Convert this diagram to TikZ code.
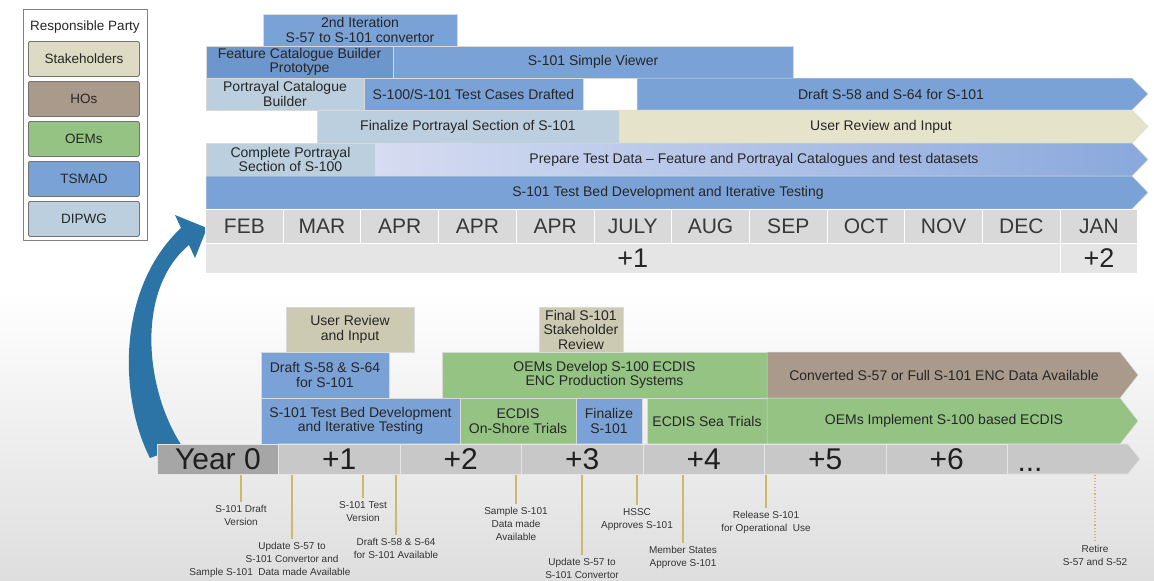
\documentclass[tikz,border=0pt]{standalone}
\usepackage{fontspec}
\setmainfont{Liberation Sans}
\usetikzlibrary{positioning}
\definecolor{tsmad}{RGB}{122,162,214}
\definecolor{tsmaddark}{RGB}{108,150,204}
\definecolor{dipwg}{RGB}{188,207,222}
\definecolor{stake}{RGB}{221,219,196}
\definecolor{stakelight}{RGB}{229,228,203}
\definecolor{stakedark}{RGB}{204,202,178}
\definecolor{hos}{RGB}{169,154,140}
\definecolor{oems}{RGB}{148,195,131}
\definecolor{prepleft}{RGB}{214,220,241}
\definecolor{prepright}{RGB}{138,168,220}
\definecolor{monthgray}{RGB}{217,217,217}
\definecolor{yeargray}{RGB}{229,229,229}
\definecolor{bargray}{RGB}{200,200,200}
\definecolor{yearzero}{RGB}{166,166,166}
\definecolor{milestone}{RGB}{204,186,104}
\definecolor{swoosh}{RGB}{44,115,166}
\begin{document}
\begin{tikzpicture}[x=1pt,y=-1pt,line join=round,
	bar/.style={draw=white!70!gray,line width=0.5pt,inner sep=0pt,outer sep=0pt,anchor=north west,align=center,text=black!85,font=\fontsize{14}{14.5}\selectfont},
	bartext/.style={inner sep=0pt,align=center,text=black!85,font=\fontsize{14}{14.5}\selectfont},
	arrowbar/.style={draw=white!70!gray,line width=0.5pt},
	legendbox/.style={draw=black!55,line width=0.8pt,rounded corners=1.5pt,minimum width=111pt,minimum height=35pt,inner sep=0pt,anchor=north west,text=black!85,font=\fontsize{13.5}{15}\selectfont},
	monthcell/.style={draw=white,line width=1pt,fill=monthgray,minimum width=77.7pt,minimum height=34pt,inner sep=0pt,anchor=north west,text=black!78,font=\fontsize{21}{21}\selectfont},
	yearcell/.style={draw=white,line width=1pt,fill=yeargray,minimum height=30pt,inner sep=0pt,anchor=north west,text=black!85,font=\fontsize{27}{27}\selectfont},
	yearbox/.style={draw=white!80!gray,line width=0.8pt,fill=bargray,minimum height=30pt,inner sep=0pt,anchor=north west,text=black!88,font=\fontsize{30}{30}\selectfont},
	tick/.style={draw=milestone,line width=1.1pt,shorten >=3pt},
	note/.style={inner sep=0pt,align=center,anchor=north,text=black!80,font=\fontsize{10}{13}\selectfont}]
	\useasboundingbox (0,0) rectangle (1154,581);
	\shade[top color=white,bottom color=black!13] (0,290) rectangle (1154,581);
	%%%%Legend
	\draw[black!50,line width=0.8pt,fill=white] (23,9) rectangle (147,240);
	\node[inner sep=0pt,text=black!85,font=\fontsize{13.5}{14}\selectfont] (legtitle) at (85,27) {Responsible Party};
	\foreach \ten/\mau [count=\i] in {Stakeholders/stake,HOs/hos,OEMs/oems,TSMAD/tsmad,DIPWG/dipwg}
		\node[legendbox,fill=\mau] (leg\i) at (28,{1+40*\i}) {\ten};
	%%%%Swoosh arrow
	\fill[swoosh] (150,458) .. controls (120,400) and (115,290) .. (181,228) -- (175,215) -- (207,228) -- (195,258) -- (189,245) .. controls (135,290) and (145,390) .. (182,446) -- cycle;
	%%%%Top bars
	\node[bar,fill=tsmad,minimum width=194pt,minimum height=32pt] (iteration) at (263,14) {2nd Iteration\\S-57 to S-101 convertor};
	\node[bar,fill=tsmaddark,minimum width=187pt,minimum height=32pt] (fcbuilder) at (206,46) {Feature Catalogue Builder\\Prototype};
	\node[bar,fill=tsmad,minimum width=400pt,minimum height=32pt] (viewer) at (393,46) {S-101 Simple Viewer};
	\node[bar,fill=dipwg,minimum width=158pt,minimum height=32pt] (pcbuilder) at (206,78) {Portrayal Catalogue\\Builder};
	\node[bar,fill=tsmad,minimum width=219pt,minimum height=32pt] (testcases) at (364,78) {S-100/S-101 Test Cases Drafted};
	\draw[arrowbar,fill=tsmad] (637,78) -- (1132,78) -- (1148,94) -- (1132,110) -- (637,110) -- cycle;
	\node[bartext] (draftup) at (891,94) {Draft S-58 and S-64 for S-101};
	\node[bar,fill=dipwg,minimum width=302pt,minimum height=33pt] (finportrayal) at (317,110) {Finalize Portrayal Section of S-101};
	\draw[arrowbar,fill=stakelight] (619,110) -- (1132,110) -- (1148,126.5) -- (1132,143) -- (619,143) -- cycle;
	\node[bartext] (reviewup) at (881,126.5) {User Review and Input};
	\node[bar,fill=dipwg,minimum width=169pt,minimum height=33pt] (compportrayal) at (206,143) {Complete Portrayal\\Section of S-100};
	\draw[arrowbar,left color=prepleft,right color=prepright] (375,143) -- (1132,143) -- (1148,159.5) -- (1132,176) -- (375,176) -- cycle;
	\node[bartext] (prepare) at (754,159.5) {Prepare Test Data -- Feature and Portrayal Catalogues and test datasets};
	\draw[arrowbar,fill=tsmad] (206,176) -- (1132,176) -- (1148,192.5) -- (1132,209) -- (206,209) -- cycle;
	\node[bartext] (testbedup) at (668,192.5) {S-101 Test Bed Development and Iterative Testing};
	%%%%Months
	\foreach \thang [count=\i from 0] in {FEB,MAR,APR,APR,APR,JULY,AUG,SEP,OCT,NOV,DEC,JAN}
		\node[monthcell] (m\i) at ({205+77.7*\i},209) {\thang};
	\node[yearcell,minimum width=854.7pt] (yr1) at (205,243) {+1};
	\node[yearcell,minimum width=77.7pt] (yr2) at (1059.7,243) {+2};
	%%%%Bottom bars
	\node[bar,fill=stakedark,minimum width=128pt,minimum height=45pt] (reviewlow) at (286,307) {User Review\\and Input};
	\node[bar,fill=stakedark,minimum width=84pt,minimum height=45pt] (finalreview) at (539,307) {Final S-101\\Stakeholder\\Review};
	\node[bar,fill=tsmad,minimum width=128pt,minimum height=46pt] (draftlow) at (261,352) {Draft S-58 \& S-64\\for S-101};
	\node[bar,fill=oems,minimum width=325pt,minimum height=46pt] (oemdev) at (442,352) {OEMs Develop S-100 ECDIS\\ENC Production Systems};
	\draw[arrowbar,fill=hos] (767,352) -- (1120,352) -- (1138,375) -- (1120,398) -- (767,398) -- cycle;
	\node[bartext] (converted) at (944,375) {Converted S-57 or Full S-101 ENC Data Available};
	\node[bar,fill=tsmad,minimum width=199pt,minimum height=46pt] (testbedlow) at (261,398) {S-101 Test Bed Development\\and Iterative Testing};
	\node[bar,fill=oems,minimum width=116pt,minimum height=46pt] (onshore) at (460,398) {ECDIS\\On-Shore Trials};
	\node[bar,fill=tsmad,minimum width=66pt,minimum height=46pt] (finalize) at (576,398) {Finalize\\S-101};
	\node[bar,fill=oems,minimum width=120pt,minimum height=46pt] (seatrials) at (647,398) {ECDIS Sea Trials};
	\draw[arrowbar,fill=oems] (767,398) -- (1120,398) -- (1138,421) -- (1120,444) -- (767,444) -- cycle;
	\node[bartext] (implement) at (944,421) {OEMs Implement S-100 based ECDIS};
	%%%%Years
	\draw[draw=white!80!gray,line width=0.8pt,fill=bargray] (278,444) -- (1128,444) -- (1140,459) -- (1128,474) -- (278,474) -- cycle;
	\node[yearbox,fill=yearzero,minimum width=121pt] (y0) at (157,444) {Year 0};
	\foreach \nam [count=\i] in {+1,+2,+3,+4,+5,+6}
		\node[yearbox,minimum width=121.5pt] (y\i) at ({156.5+121.5*\i},444) {\nam};
	\node[inner sep=0pt,anchor=base,text=black!88,font=\fontsize{30}{30}\selectfont] (dots) at (1030,471) {...};
	%%%%Milestones
	\node[note] (ms1) at (241,505) {S-101 Draft\\Version};
	\node[note] (ms2) at (292,542) {Update S-57 to\\S-101 Convertor and\\\hspace*{-44pt}Sample S-101\ \ Data made Available};
	\node[note] (ms3) at (363,501) {S-101 Test\\Version};
	\node[note] (ms4) at (396,538) {Draft S-58 \& S-64\\for S-101 Available};
	\node[note] (ms5) at (516,507) {Sample S-101\\Data made\\Available};
	\node[note] (ms6) at (582,558) {Update S-57 to\\S-101 Convertor};
	\node[note] (ms7) at (637,508) {HSSC\\Approves S-101};
	\node[note] (ms8) at (683,546) {Member States\\Approve S-101};
	\node[note] (ms9) at (766,511) {Release S-101\\for Operational\ \ Use};
	\node[note] (ms10) at (1095,545) {Retire\\S-57 and S-52};
	\foreach \i in {1,...,9}
		\draw[tick] (ms\i.north |- y0.south) -- (ms\i.north);
	\draw[tick,dotted] (ms10.north |- y0.south) -- (ms10.north);
\end{tikzpicture}
\end{document}
